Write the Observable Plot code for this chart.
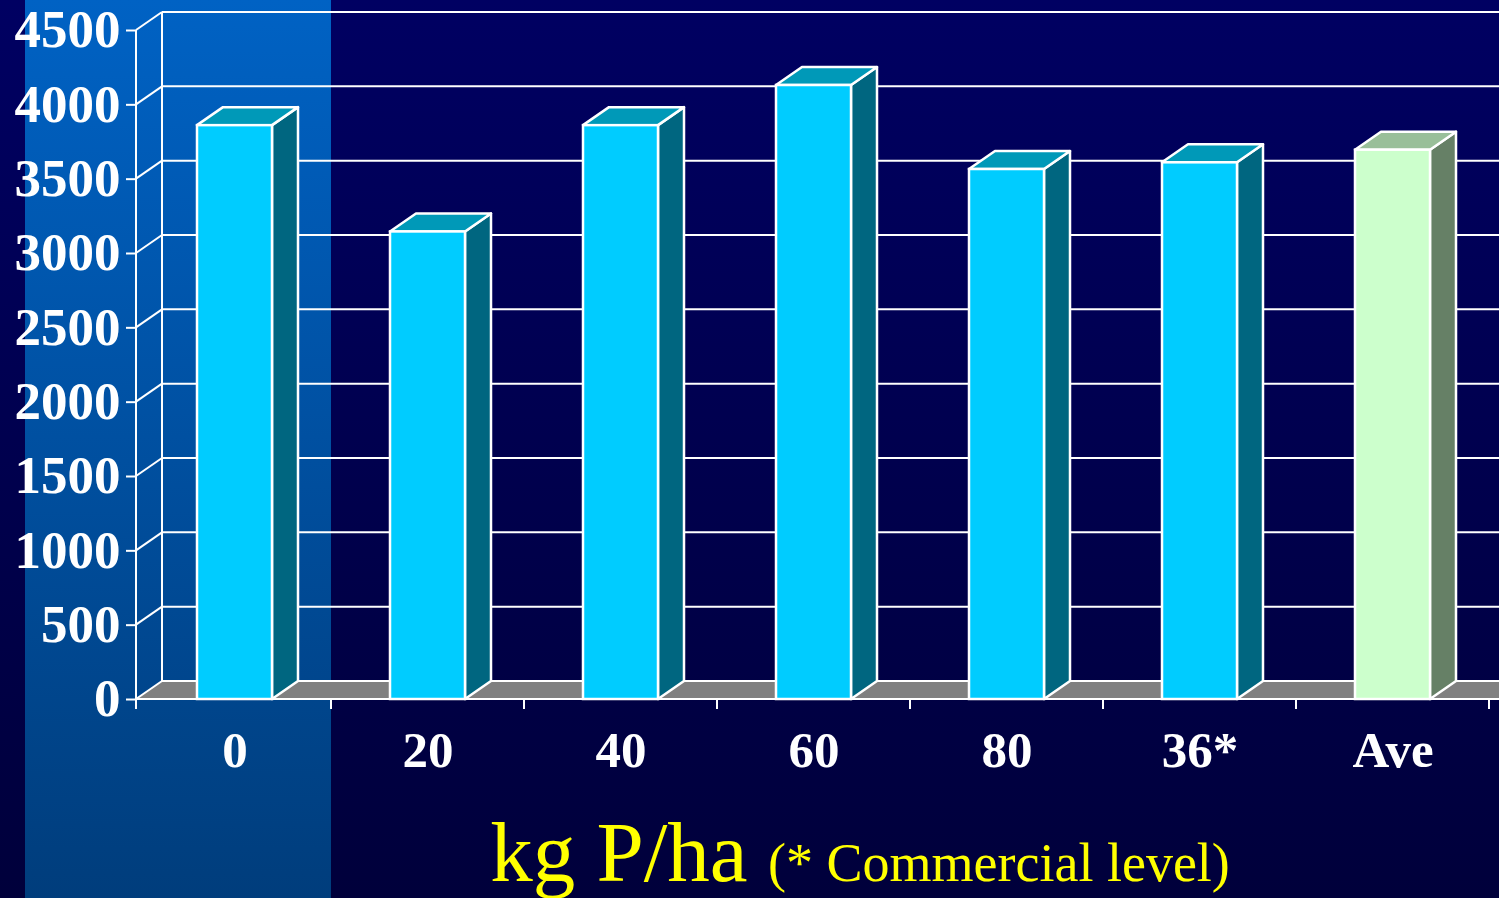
<!DOCTYPE html>
<html>
<head>
<meta charset="utf-8">
<script src="https://cdn.jsdelivr.net/npm/d3@7"></script>
<script src="https://cdn.jsdelivr.net/npm/@observablehq/plot@0.6"></script>
<style>
  html, body { margin: 0; padding: 0; background: #000050; }
  #chart { width: 1499px; height: 898px; overflow: hidden; }
</style>
</head>
<body>
<div id="chart"></div>
<script>
// Phosphorus rate (kg P/ha) and the yield measured at each rate
const rates = ["0", "20", "40", "60", "80", "36*", "Ave"];
const yields = [3860, 3145, 3860, 4130, 3565, 3610, 3695];
const yTicks = [0, 500, 1000, 1500, 2000, 2500, 3000, 3500, 4000, 4500];
const highlightedRate = "0";
const averageRate = "Ave";

const rows = rates.map((rate, i) => ({rate, value: yields[i]}));

// look of the pseudo-3D chart
const W = 1499, H = 898;
const DX = 26, DY = 18;          // depth offset of the back wall
const BAR_INSET = 59;            // horizontal inset of each bar inside its band
const serif = "'Liberation Serif', 'Times New Roman', serif";
const palette = {
  bar:  {front: "#00ccff", top: "#0099b8", side: "#006680"},
  avg:  {front: "#ccffcc", top: "#99bf99", side: "#668066"},
  floor: "#808080",
  line: "#ffffff",
  title: "#ffff00"
};
const colorsFor = (rate) => rate === averageRate ? palette.avg : palette.bar;

function bandOf(x, rate, dims) {
  const bw = typeof x.bandwidth === "function" ? x.bandwidth()
    : (dims.width - dims.marginLeft - dims.marginRight) / rates.length;
  return [x(rate), x(rate) + bw];
}

// background, highlighted column, back wall grid and floor
function backdrop(index, {x, y}, values, dims) {
  const g = d3.create("svg:g");
  const defs = g.append("defs");
  const bg = defs.append("linearGradient").attr("id", "bgGrad").attr("x1", 0).attr("x2", 0).attr("y1", 0).attr("y2", 1);
  bg.append("stop").attr("offset", 0).attr("stop-color", "#000062");
  bg.append("stop").attr("offset", 1).attr("stop-color", "#00003b");
  const hl = defs.append("linearGradient").attr("id", "hlGrad").attr("x1", 0).attr("x2", 0).attr("y1", 0).attr("y2", 1);
  hl.append("stop").attr("offset", 0).attr("stop-color", "#0062c4");
  hl.append("stop").attr("offset", 1).attr("stop-color", "#003d7c");

  g.append("rect").attr("width", dims.width).attr("height", dims.height).attr("fill", "url(#bgGrad)");
  const [, hx1] = bandOf(x, highlightedRate, dims);
  const hx0 = dims.marginLeft - 112;
  g.append("rect").attr("x", hx0).attr("y", 0).attr("width", hx1 - hx0).attr("height", dims.height).attr("fill", "url(#hlGrad)");

  const front = dims.marginLeft - 1;
  const back = front + DX;
  const right = dims.width;
  const y0 = y(0);

  // floor
  g.append("polygon")
    .attr("points", [[front, y0], [right, y0], [right + DX, y0 - DY], [back, y0 - DY]].map(p => p.join(",")).join(" "))
    .attr("fill", palette.floor);

  const lines = g.append("g").attr("stroke", palette.line).attr("stroke-width", 2).attr("fill", "none");
  // back wall left edge
  lines.append("line").attr("x1", back).attr("x2", back)
    .attr("y1", y(yTicks[yTicks.length - 1]) - DY).attr("y2", y0 - DY);
  for (const t of yTicks) {
    lines.append("line").attr("x1", back).attr("x2", right)
      .attr("y1", y(t) - DY).attr("y2", y(t) - DY);
    lines.append("line").attr("x1", front).attr("x2", back)
      .attr("y1", y(t)).attr("y2", y(t) - DY);
  }
  return g.node();
}

// top and side faces of each bar
function barDepth(index, {x, y}, values, dims) {
  const g = d3.create("svg:g").attr("stroke", palette.line).attr("stroke-width", 2.5).attr("stroke-linejoin", "round");
  const y0 = y(0);
  rows.forEach(d => {
    const [b0, b1] = bandOf(x, d.rate, dims);
    const l = b0 + BAR_INSET, r = b1 - BAR_INSET, t = y(d.value);
    const c = colorsFor(d.rate);
    g.append("polygon")
      .attr("points", [[r, y0], [r, t], [r + DX, t - DY], [r + DX, y0 - DY]].map(p => p.join(",")).join(" "))
      .attr("fill", c.side);
    g.append("polygon")
      .attr("points", [[l, t], [r, t], [r + DX, t - DY], [l + DX, t - DY]].map(p => p.join(",")).join(" "))
      .attr("fill", c.top);
  });
  return g.node();
}

// front axis lines, category separators and the axis title
function frontAxes(index, {x, y}, values, dims) {
  const g = d3.create("svg:g");
  const front = dims.marginLeft - 1;
  const y0 = y(0);
  const lines = g.append("g").attr("stroke", palette.line).attr("stroke-width", 2);
  lines.append("line").attr("x1", front).attr("x2", front)
    .attr("y1", y(yTicks[yTicks.length - 1])).attr("y2", y0 + 10);
  lines.append("line").attr("x1", front).attr("x2", dims.width).attr("y1", y0).attr("y2", y0);
  rates.forEach((rate) => {
    const [, b1] = bandOf(x, rate, dims);
    lines.append("line").attr("x1", b1).attr("x2", b1).attr("y1", y0).attr("y2", y0 + 10);
  });

  const title = g.append("text")
    .attr("x", 860).attr("y", 881)
    .attr("text-anchor", "middle")
    .attr("fill", palette.title)
    .attr("font-family", serif);
  title.append("tspan").attr("font-size", 85).text("kg P/ha");
  title.append("tspan").attr("font-size", 54).attr("dx", 7).text(" (* Commercial level)");
  return g.node();
}

const chart = Plot.plot({
  width: W,
  height: H,
  marginLeft: 137,
  marginRight: 9,
  marginTop: 30,
  marginBottom: 199,
  style: {background: "transparent", color: "white", overflow: "visible"},
  x: {domain: rates, padding: 0, axis: null},
  y: {domain: [0, 4500], axis: null},
  color: {type: "identity"},
  marks: [
    backdrop,
    barDepth,
    Plot.barY(rows, {
      x: "rate",
      y: "value",
      fill: d => colorsFor(d.rate).front,
      stroke: palette.line,
      strokeWidth: 2.5,
      insetLeft: BAR_INSET,
      insetRight: BAR_INSET
    }),
    Plot.axisY({
      ticks: yTicks,
      label: null,
      tickSize: 11,
      tickPadding: 6,
      tickFormat: d => String(d),
      fontSize: 53,
      fontWeight: "bold",
      fontFamily: serif,
      stroke: palette.line,
      strokeWidth: 2,
      fill: "white"
    }),
    Plot.axisX({
      label: null,
      tickSize: 0,
      tickPadding: 31,
      fontSize: 51,
      fontWeight: "bold",
      fontFamily: serif,
      fill: "white"
    }),
    frontAxes
  ]
});

document.getElementById("chart").appendChild(chart);
</script>
</body>
</html>
